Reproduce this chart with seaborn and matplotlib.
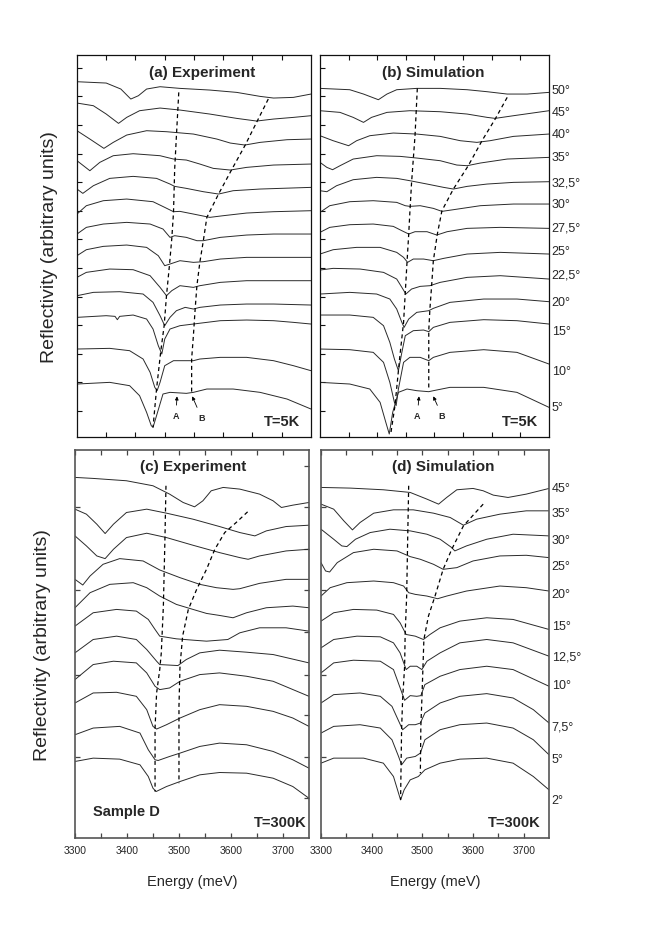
import numpy as np
import pandas as pd
import matplotlib
matplotlib.use("Agg")
import matplotlib.pyplot as plt
import seaborn as sns

# ---------------- panel (a) : experiment, T=5K ----------------
a_angles = ["50°", "45°", "40°", "35°", "32,5°", "30°", "27,5°", "25°", "22,5°", "20°", "15°", "10°", "5°"]
a_energy = [
    [3350, 3400, 3425, 3442, 3455, 3469, 3492, 3526, 3577, 3623, 3663, 3686, 3720, 3750],
    [3350, 3378, 3400, 3421, 3435, 3457, 3492, 3526, 3577, 3623, 3657, 3686, 3720, 3750],
    [3350, 3372, 3396, 3412, 3435, 3469, 3503, 3549, 3589, 3612, 3637, 3663, 3709, 3750],
    [3350, 3372, 3389, 3412, 3446, 3492, 3515, 3537, 3560, 3583, 3612, 3640, 3686, 3750],
    [3350, 3360, 3378, 3406, 3446, 3486, 3509, 3517, 3537, 3566, 3592, 3617, 3663, 3750],
    [3350, 3366, 3395, 3435, 3480, 3500, 3515, 3526, 3549, 3577, 3600, 3640, 3686, 3750],
    [3350, 3366, 3395, 3435, 3475, 3497, 3509, 3517, 3537, 3555, 3566, 3595, 3640, 3686, 3750],
    [3350, 3366, 3395, 3435, 3469, 3489, 3500, 3509, 3526, 3549, 3566, 3595, 3640, 3686, 3750],
    [3350, 3366, 3406, 3446, 3475, 3492, 3503, 3512, 3526, 3549, 3560, 3595, 3640, 3686, 3750],
    [3350, 3378, 3423, 3463, 3480, 3492, 3500, 3509, 3520, 3535, 3549, 3560, 3595, 3640, 3686, 3750],
    [3350, 3400, 3415, 3419, 3423, 3446, 3469, 3480, 3489, 3495, 3500, 3509, 3526, 3549, 3595, 3640, 3686, 3720, 3750],
    [3350, 3406, 3440, 3463, 3475, 3483, 3487, 3492, 3500, 3515, 3549, 3560, 3595, 3640, 3686, 3720, 3750],
    [3350, 3406, 3440, 3457, 3469, 3477, 3480, 3486, 3497, 3509, 3537, 3549, 3572, 3617, 3663, 3709, 3750],
]
a_refl = [
    [1066, 1062, 1044, 1014, 1024, 1044, 1051, 1046, 1041, 1034, 1022, 1017, 1019, 1029],
    [1002, 994, 969, 941, 959, 979, 987, 981, 969, 956, 948, 954, 959, 964],
    [919, 894, 866, 884, 906, 919, 916, 909, 894, 882, 876, 884, 892, 894],
    [829, 799, 824, 844, 850, 844, 834, 831, 819, 806, 801, 809, 816, 819],
    [744, 731, 754, 776, 782, 776, 759, 752, 746, 736, 729, 739, 744, 749],
    [669, 694, 709, 714, 706, 689, 676, 677, 669, 659, 664, 672, 676, 679],
    [609, 629, 639, 644, 639, 624, 599, 604, 599, 589, 589, 599, 606, 609, 609],
    [544, 562, 572, 576, 569, 544, 514, 519, 529, 524, 526, 534, 539, 539, 539],
    [479, 494, 504, 502, 484, 449, 424, 439, 454, 449, 454, 464, 469, 469, 469],
    [424, 434, 436, 429, 404, 364, 334, 359, 379, 389, 384, 389, 396, 399, 399, 396],
    [359, 364, 362, 352, 362, 366, 354, 324, 274, 249, 294, 324, 334, 339, 349, 351, 349, 344, 339],
    [264, 266, 259, 234, 194, 149, 139, 164, 214, 229, 229, 234, 239, 239, 229, 214, 199],
    [159, 164, 154, 124, 74, 34, 29, 64, 129, 134, 131, 134, 144, 144, 134, 114, 84],
]
a_dashA_E = [3524, 3520, 3517, 3515, 3512, 3508, 3503, 3499, 3493, 3486, 3480]
a_dashA_R = [1034, 904, 804, 674, 594, 514, 424, 334, 254, 144, 29]
a_dashB_E = [3677, 3657, 3637, 3615, 3592, 3572, 3566, 3560, 3555, 3552, 3549, 3546, 3546]
a_dashB_R = [1014, 944, 874, 804, 729, 659, 589, 524, 454, 384, 304, 234, 134]
a_mark_text_E = [3519, 3563]
a_mark_text_R = [64, 58]
a_mark_head_E = [3521, 3547]
a_mark_head_R = [122, 122]

# ---------------- panel (b) : simulation, T=5K ----------------
b_angles = a_angles
b_energy = [
    [3350, 3402, 3426, 3452, 3467, 3484, 3519, 3560, 3607, 3642, 3677, 3712, 3750],
    [3350, 3385, 3408, 3426, 3440, 3467, 3507, 3560, 3607, 3642, 3656, 3688, 3750],
    [3350, 3373, 3400, 3414, 3437, 3478, 3519, 3560, 3595, 3624, 3647, 3688, 3750],
    [3350, 3362, 3372, 3385, 3408, 3449, 3490, 3519, 3560, 3589, 3607, 3630, 3677, 3750],
    [3350, 3362, 3379, 3408, 3449, 3484, 3507, 3537, 3566, 3583, 3607, 3642, 3688, 3750],
    [3350, 3367, 3402, 3443, 3484, 3499, 3507, 3525, 3548, 3563, 3583, 3630, 3688, 3750],
    [3350, 3367, 3402, 3443, 3478, 3493, 3505, 3516, 3537, 3554, 3572, 3607, 3665, 3750],
    [3350, 3373, 3414, 3455, 3484, 3496, 3503, 3513, 3531, 3548, 3566, 3607, 3665, 3750],
    [3350, 3373, 3420, 3461, 3484, 3493, 3500, 3510, 3525, 3542, 3560, 3607, 3665, 3750],
    [3350, 3402, 3449, 3472, 3484, 3493, 3497, 3505, 3519, 3540, 3548, 3577, 3636, 3694, 3750],
    [3350, 3402, 3443, 3461, 3472, 3480, 3487, 3493, 3499, 3513, 3531, 3540, 3548, 3577, 3636, 3694, 3750],
    [3350, 3402, 3443, 3461, 3472, 3480, 3483, 3487, 3496, 3507, 3525, 3540, 3548, 3577, 3636, 3694, 3750],
    [3350, 3402, 3437, 3455, 3465, 3471, 3477, 3487, 3502, 3519, 3540, 3548, 3577, 3636, 3694, 3750],
]
b_refl = [
    [1046, 1042, 1029, 1012, 1029, 1042, 1046, 1046, 1042, 1036, 1029, 1029, 1034],
    [979, 974, 959, 944, 959, 974, 979, 976, 969, 959, 956, 964, 979],
    [904, 889, 874, 889, 904, 912, 909, 902, 889, 884, 889, 902, 909],
    [824, 809, 802, 814, 834, 844, 842, 837, 829, 816, 814, 822, 834, 839],
    [739, 736, 754, 772, 779, 776, 769, 759, 749, 744, 752, 759, 764, 766],
    [674, 694, 706, 709, 704, 694, 692, 694, 686, 677, 682, 694, 699, 699],
    [614, 629, 637, 639, 632, 619, 609, 616, 616, 606, 616, 626, 629, 626],
    [549, 562, 569, 569, 554, 539, 524, 534, 534, 529, 536, 549, 554, 549],
    [501, 506, 504, 494, 474, 449, 429, 444, 452, 454, 464, 479, 484, 474],
    [429, 434, 429, 414, 384, 344, 329, 354, 374, 379, 386, 404, 414, 414, 406],
    [366, 366, 359, 334, 284, 234, 199, 254, 304, 319, 321, 316, 329, 344, 352, 349, 339],
    [264, 262, 254, 224, 164, 104, 94, 144, 224, 239, 239, 229, 239, 254, 262, 254, 219],
    [164, 159, 144, 104, 44, 9, 74, 134, 144, 139, 136, 139, 149, 149, 134, 89],
]
b_label_R = [1042, 974, 909, 839, 764, 699, 629, 559, 489, 404, 319, 199, 89]
b_dashA_E = [3520, 3516, 3510, 3507, 3505, 3502, 3499, 3496, 3489, 3481, 3474]
b_dashA_R = [1046, 904, 764, 674, 609, 524, 434, 344, 234, 94, 14]
b_dashB_E = [3677, 3656, 3633, 3609, 3583, 3563, 3555, 3548, 3545, 3542, 3540, 3540, 3540]
b_dashB_R = [1019, 954, 889, 814, 744, 679, 609, 529, 454, 384, 319, 229, 144]
b_mark_text_E = [3520, 3563]
b_mark_text_R = [64, 64]
b_mark_head_E = [3523, 3548]
b_mark_head_R = [122, 122]

# ---------------- panel (c) : experiment, T=300K ----------------
c_angles = ["45°", "35°", "30°", "25°", "20°", "15°", "12,5°", "10°", "7,5°", "5°", "2°"]
c_energy = [
    [3300, 3335, 3399, 3450, 3482, 3508, 3530, 3546, 3562, 3585, 3617, 3655, 3681, 3697, 3719, 3750],
    [3300, 3322, 3342, 3358, 3374, 3399, 3438, 3476, 3527, 3578, 3617, 3646, 3668, 3706, 3750],
    [3300, 3322, 3342, 3358, 3374, 3399, 3438, 3476, 3527, 3578, 3617, 3633, 3655, 3706, 3750],
    [3300, 3315, 3329, 3354, 3386, 3431, 3463, 3502, 3540, 3572, 3604, 3617, 3655, 3706, 3750],
    [3300, 3329, 3367, 3412, 3438, 3463, 3495, 3527, 3553, 3578, 3604, 3630, 3668, 3719, 3750],
    [3300, 3335, 3380, 3418, 3441, 3454, 3463, 3495, 3527, 3553, 3594, 3617, 3655, 3706, 3750],
    [3300, 3335, 3380, 3418, 3438, 3457, 3463, 3498, 3514, 3540, 3578, 3630, 3681, 3750],
    [3300, 3335, 3374, 3418, 3438, 3454, 3463, 3482, 3502, 3540, 3578, 3630, 3681, 3750],
    [3300, 3335, 3380, 3418, 3438, 3450, 3457, 3476, 3502, 3540, 3578, 3630, 3681, 3719, 3750],
    [3300, 3335, 3386, 3425, 3441, 3454, 3460, 3482, 3502, 3540, 3578, 3630, 3681, 3719, 3750],
    [3300, 3335, 3386, 3425, 3441, 3450, 3456, 3476, 3502, 3540, 3578, 3630, 3681, 3719, 3750],
]
c_refl = [
    [1079, 1076, 1069, 1054, 1029, 1004, 991, 1009, 1039, 1049, 1044, 1029, 1009, 989, 996, 1004],
    [984, 969, 939, 911, 939, 974, 984, 972, 954, 932, 914, 904, 919, 932, 936],
    [904, 874, 844, 836, 864, 899, 912, 899, 876, 854, 839, 834, 844, 859, 864],
    [774, 757, 784, 819, 836, 829, 802, 779, 759, 749, 744, 746, 762, 774, 774],
    [689, 734, 759, 764, 749, 724, 699, 684, 672, 666, 659, 674, 689, 694, 689],
    [634, 674, 684, 679, 654, 624, 604, 596, 592, 589, 594, 614, 629, 629, 619],
    [554, 594, 604, 594, 564, 529, 519, 516, 534, 554, 562, 556, 549, 524],
    [474, 519, 529, 524, 494, 454, 444, 449, 469, 489, 494, 484, 469, 424],
    [404, 434, 436, 424, 384, 334, 326, 339, 359, 384, 399, 394, 379, 359, 334],
    [309, 329, 334, 314, 264, 234, 232, 244, 254, 274, 284, 279, 259, 234, 209],
    [229, 239, 236, 219, 184, 149, 139, 154, 169, 189, 196, 194, 179, 154, 119],
]
c_dashA_E = [3475, 3473, 3470, 3466, 3463, 3457, 3454, 3454]
c_dashA_R = [1054, 894, 694, 554, 504, 434, 329, 139]
c_dashB_E = [3632, 3610, 3588, 3569, 3553, 3534, 3518, 3507, 3502, 3500, 3500]
c_dashB_R = [976, 944, 914, 864, 804, 744, 684, 604, 514, 394, 164]

# ---------------- panel (d) : simulation, T=300K ----------------
d_angles = c_angles
d_energy = [
    [3300, 3358, 3423, 3476, 3509, 3532, 3548, 3568, 3600, 3620, 3640, 3669, 3705, 3750],
    [3300, 3325, 3345, 3362, 3377, 3404, 3443, 3482, 3522, 3555, 3581, 3607, 3653, 3705, 3750],
    [3300, 3325, 3341, 3351, 3368, 3397, 3436, 3476, 3509, 3535, 3558, 3564, 3587, 3627, 3679, 3750],
    [3300, 3309, 3317, 3332, 3364, 3404, 3450, 3476, 3496, 3522, 3541, 3568, 3600, 3653, 3705, 3750],
    [3300, 3318, 3351, 3404, 3443, 3463, 3473, 3486, 3509, 3530, 3548, 3587, 3653, 3705, 3750],
    [3300, 3325, 3364, 3410, 3443, 3456, 3468, 3486, 3502, 3515, 3535, 3574, 3627, 3679, 3750],
    [3300, 3325, 3371, 3417, 3443, 3456, 3468, 3476, 3489, 3499, 3509, 3535, 3574, 3627, 3679, 3750],
    [3300, 3325, 3364, 3417, 3443, 3455, 3465, 3476, 3489, 3497, 3505, 3535, 3574, 3627, 3679, 3750],
    [3300, 3325, 3377, 3417, 3440, 3455, 3461, 3473, 3486, 3496, 3505, 3535, 3574, 3627, 3679, 3719, 3750],
    [3300, 3325, 3377, 3417, 3440, 3453, 3459, 3469, 3486, 3496, 3505, 3535, 3574, 3627, 3679, 3719, 3750],
    [3300, 3325, 3384, 3423, 3443, 3453, 3457, 3464, 3476, 3492, 3505, 3535, 3574, 3627, 3679, 3719, 3750],
]
d_refl = [
    [1049, 1047, 1042, 1034, 1014, 999, 1019, 1042, 1046, 1039, 1026, 1019, 1029, 1046],
    [999, 984, 949, 922, 944, 972, 982, 982, 972, 959, 936, 954, 969, 979, 979],
    [924, 894, 874, 872, 894, 914, 924, 919, 909, 894, 869, 859, 874, 894, 909, 904],
    [824, 799, 796, 824, 854, 864, 859, 842, 834, 819, 804, 809, 829, 844, 846, 839],
    [724, 749, 764, 769, 764, 754, 734, 729, 724, 716, 724, 739, 754, 749, 739],
    [649, 674, 684, 682, 669, 644, 609, 604, 594, 609, 629, 649, 659, 654, 624],
    [569, 594, 604, 602, 584, 554, 504, 514, 514, 504, 529, 554, 584, 594, 584, 544],
    [494, 524, 532, 529, 504, 454, 412, 426, 424, 426, 459, 484, 504, 514, 504, 454],
    [404, 429, 434, 424, 394, 344, 324, 339, 339, 344, 374, 404, 424, 432, 419, 384, 344],
    [314, 334, 339, 329, 294, 244, 219, 239, 244, 254, 294, 324, 339, 344, 329, 294, 249],
    [224, 239, 239, 224, 184, 134, 114, 144, 174, 184, 204, 224, 236, 239, 224, 184, 144],
]
d_label_R = [1046, 972, 893, 815, 730, 635, 542, 459, 335, 237, 114]
d_dashA_E = [3473, 3471, 3469, 3466, 3465, 3461, 3459, 3457]
d_dashA_R = [1054, 894, 724, 609, 514, 414, 324, 114]
d_dashB_E = [3620, 3581, 3558, 3541, 3525, 3512, 3503, 3501, 3499, 3497, 3496]
d_dashB_R = [999, 934, 864, 804, 724, 664, 594, 504, 414, 334, 194]

energy_ticks_top = [3400, 3450, 3500, 3550, 3600, 3650, 3700]
energy_ticks_bottom = [3300, 3350, 3400, 3450, 3500, 3550, 3600, 3650, 3700]
energy_labels_bottom = [3300, 3400, 3500, 3600, 3700]


def to_frame(energies, refls, angles):
    rows = []
    for k, (es, rs) in enumerate(zip(energies, refls)):
        for e, r in zip(es, rs):
            rows.append({"curve": angles[k], "energy": e, "refl": r})
    return pd.DataFrame(rows)


sns.set_style("ticks")
plt.rcParams["font.family"] = ["Liberation Sans", "DejaVu Sans"]

fig = plt.figure(figsize=(6.48, 9.28), dpi=100)
ax_a = fig.add_axes([0.1188, 0.528, 0.3611, 0.4116])
ax_b = fig.add_axes([0.4938, 0.528, 0.3534, 0.4116])
ax_c = fig.add_axes([0.1157, 0.0959, 0.3611, 0.4181])
ax_d = fig.add_axes([0.4954, 0.0959, 0.3519, 0.4181])

LINE = "#2a2a2a"

panels = [
    (ax_a, a_energy, a_refl, a_angles, (a_dashA_E, a_dashA_R), (a_dashB_E, a_dashB_R), "#111111", 0.9),
    (ax_b, b_energy, b_refl, b_angles, (b_dashA_E, b_dashA_R), (b_dashB_E, b_dashB_R), "#111111", 0.9),
    (ax_c, c_energy, c_refl, c_angles, (c_dashA_E, c_dashA_R), (c_dashB_E, c_dashB_R), "#555555", 1.2),
    (ax_d, d_energy, d_refl, d_angles, (d_dashA_E, d_dashA_R), (d_dashB_E, d_dashB_R), "#555555", 1.2),
]

for ax, es, rs, angs, dA, dB, spc, spw in panels:
    df = to_frame(es, rs, angs)
    sns.lineplot(data=df, x="energy", y="refl", units="curve", estimator=None,
                 sort=False, color=LINE, linewidth=0.7, ax=ax, legend=False)
    for dE, dR in (dA, dB):
        ax.plot(dE, dR, color="black", linewidth=0.9, linestyle=(0, (3.2, 2.6)))
    ax.set_xlabel("")
    ax.set_ylabel("")
    for sp in ax.spines.values():
        sp.set_visible(True)
        sp.set_color(spc)
        sp.set_linewidth(spw)

# top row
for ax in (ax_a, ax_b):
    ax.set_xlim(3350, 3750)
    ax.set_ylim(0, 1146)
    ax.set_xticks(energy_ticks_top)
    ax.set_yticks(np.linspace(78, 1108, 13))
    ax.tick_params(direction="in", length=3.5, width=0.8, top=True, bottom=True,
                   left=True, right=False, labelleft=False, labelbottom=False,
                   color="#111111")

# bottom row
for ax in (ax_c, ax_d):
    ax.set_xlim(3300, 3750)
    ax.set_ylim(0, 1161)
    ax.set_xticks(energy_ticks_bottom)
    ax.set_xticklabels([str(t) if t in energy_labels_bottom else "" for t in energy_ticks_bottom])
    ax.set_yticks([243, 489, 741, 990])
    ax.tick_params(direction="in", length=3.5, width=0.9, top=True, bottom=True,
                   left=True, right=False, labelleft=False, labelsize=7.5, pad=5,
                   color="#444444")
    ax.set_xlabel("Energy (meV)", fontsize=10.5, labelpad=14)

ax_c.set_yticks([120, 369, 615, 864, 1113], minor=True)
ax_c.tick_params(which="major", right=True)
ax_c.tick_params(which="minor", direction="in", length=3.5, width=0.9,
                 left=False, right=True, color="#444444")

# titles and annotations
title_kw = dict(fontsize=11, fontweight="bold", ha="center", va="center")
ax_a.text(0.533, 0.956, "(a) Experiment", transform=ax_a.transAxes, **title_kw)
ax_b.text(0.495, 0.956, "(b) Simulation", transform=ax_b.transAxes, **title_kw)
ax_c.text(0.506, 0.958, "(c) Experiment", transform=ax_c.transAxes, **title_kw)
ax_d.text(0.536, 0.958, "(d) Simulation", transform=ax_d.transAxes, **title_kw)

ax_a.text(0.875, 0.042, "T=5K", transform=ax_a.transAxes, fontsize=10.5,
          fontweight="bold", ha="center", va="center")
ax_b.text(0.873, 0.042, "T=5K", transform=ax_b.transAxes, fontsize=10.5,
          fontweight="bold", ha="center", va="center")
ax_c.text(0.876, 0.042, "T=300K", transform=ax_c.transAxes, fontsize=10.5,
          fontweight="bold", ha="center", va="center")
ax_d.text(0.846, 0.042, "T=300K", transform=ax_d.transAxes, fontsize=10.5,
          fontweight="bold", ha="center", va="center")
ax_c.text(0.22, 0.069, "Sample D", transform=ax_c.transAxes, fontsize=10.5,
          fontweight="bold", ha="center", va="center")

for ax, tE, tR, hE, hR in ((ax_a, a_mark_text_E, a_mark_text_R, a_mark_head_E, a_mark_head_R),
                           (ax_b, b_mark_text_E, b_mark_text_R, b_mark_head_E, b_mark_head_R)):
    for lab, x0, y0, x1, y1 in zip(["A", "B"], tE, tR, hE, hR):
        ax.annotate(lab, xy=(x1, y1), xytext=(x0, y0), fontsize=6.5,
                    fontweight="bold", ha="center", va="center",
                    arrowprops=dict(arrowstyle="-|>", color="black", lw=0.6,
                                    mutation_scale=5, shrinkA=2, shrinkB=0))

for ax, labs, ys in ((ax_b, b_angles, b_label_R), (ax_d, d_angles, d_label_R)):
    for lab, y in zip(labs, ys):
        ax.text(1.012, y, lab, transform=ax.get_yaxis_transform(), fontsize=9,
                ha="left", va="center")

for ax in (ax_a, ax_c):
    ax.set_ylabel("Reflectivity (arbitrary units)", fontsize=14, labelpad=14)

fig.savefig("out.png", dpi=100)
